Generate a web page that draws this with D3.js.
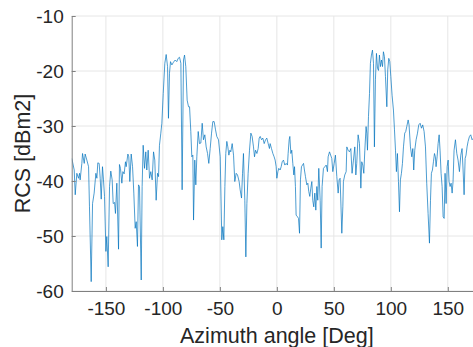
<!DOCTYPE html>
<html>
<head>
<meta charset="utf-8">
<script src="https://cdn.jsdelivr.net/npm/d3@7"></script>
<style>
  html, body { margin: 0; padding: 0; background: #ffffff; overflow: hidden; }
  svg { display: block; font-family: "Liberation Sans", Arial, Helvetica, sans-serif; }
</style>
</head>
<body>
<svg id="chart" width="473" height="347"></svg>
<script>
// Azimuth sweep of radar cross section
const angleDeg = [
  -179.9, -177.8, -176.9, -175.5, -174.0, -173.1, -172.6, -171.1, -170.5, -169.0,
  -168.2, -166.7, -165.2, -164.4, -162.9, -161.7, -160.3, -158.8, -157.9, -157.1,
  -155.9, -155.0, -154.1, -153.0, -152.1, -151.2, -150.0, -149.2, -148.0, -146.8,
  -145.7, -144.5, -143.6, -142.4, -141.6, -140.4, -138.9, -138.1, -137.2, -136.0,
  -135.1, -134.0, -132.8, -132.2, -130.7, -129.9, -129.0, -127.8, -126.6, -125.5,
  -124.3, -123.4, -122.3, -121.4, -120.5, -119.0, -118.2, -117.3, -116.1, -115.0,
  -114.1, -112.9, -111.7, -110.6, -109.4, -108.2, -107.1, -105.9, -104.7, -103.8,
  -103.0, -101.8, -100.9, -99.7, -98.3, -97.1, -95.9, -95.1, -94.2, -93.3,
  -92.1, -90.7, -89.2, -87.8, -86.6, -85.4, -84.2, -83.1, -81.9, -81.0,
  -79.9, -78.7, -77.5, -76.6, -75.5, -74.6, -73.7, -73.1, -72.0, -71.1,
  -70.2, -69.0, -67.9, -66.7, -65.5, -64.4, -63.2, -62.0, -60.8, -59.7,
  -58.5, -57.3, -56.2, -55.0, -53.8, -52.7, -51.2, -49.7, -48.3, -47.4,
  -46.5, -45.6, -44.8, -43.9, -43.0, -42.1, -41.2, -40.4, -39.2, -38.0,
  -36.9, -35.7, -34.5, -33.1, -32.2, -31.0, -30.1, -29.3, -28.1, -27.2,
  -26.3, -25.2, -24.0, -22.8, -21.7, -20.5, -19.6, -18.7, -17.5, -16.4,
  -15.5, -14.6, -13.4, -12.3, -11.1, -9.9, -8.8, -7.6, -6.5, -5.9,
  -4.7, -3.5, -2.4, -1.5, -0.6, 0.0, 0.9, 1.7, 2.9, 3.8,
  4.7, 5.8, 7.0, 8.2, 9.3, 9.9, 10.8, 11.4, 12.3, 13.1,
  14.0, 14.9, 15.5, 16.3, 16.9, 18.1, 19.0, 19.9, 20.7, 21.6,
  22.5, 23.4, 24.2, 25.1, 26.3, 27.2, 28.0, 28.9, 29.8, 30.7,
  31.5, 32.4, 33.3, 34.2, 35.1, 35.9, 36.8, 38.0, 38.9, 39.7,
  40.9, 42.1, 43.3, 44.4, 45.0, 46.2, 48.2, 49.1, 50.3, 51.4,
  52.6, 53.8, 54.6, 55.5, 57.0, 57.9, 58.4, 59.6, 60.8, 61.4,
  62.5, 63.7, 64.9, 66.0, 67.2, 68.4, 69.3, 70.1, 71.3, 72.5,
  73.7, 74.5, 75.4, 76.3, 77.2, 78.3, 78.9, 79.5, 80.4, 81.3,
  82.1, 83.0, 83.9, 84.8, 85.6, 86.5, 87.4, 88.3, 89.2, 90.0,
  90.9, 91.8, 92.7, 93.5, 94.4, 95.3, 96.5, 97.3, 98.2, 99.1,
  100.0, 101.1, 102.3, 103.2, 104.1, 104.9, 105.8, 106.7, 107.6, 108.4,
  109.3, 110.2, 111.1, 112.2, 113.1, 114.0, 115.2, 116.0, 117.2, 118.4,
  119.3, 120.1, 121.0, 122.2, 123.4, 124.5, 125.7, 126.9, 128.0, 129.2,
  130.4, 131.5, 132.7, 133.9, 134.8, 135.6, 136.5, 137.4, 138.3, 139.1,
  139.7, 140.6, 141.5, 142.4, 143.2, 144.1, 145.0, 145.9, 146.8, 147.6,
  148.5, 149.4, 150.3, 151.1, 152.0, 152.9, 153.8, 154.6, 155.5, 156.7,
  157.9, 159.0, 160.2, 161.4, 162.5, 163.4, 164.3, 165.2, 166.0, 166.9,
  167.8, 169.0, 170.1, 171.3, 172.6
];

const rcsDbm = [
  -35.9, -38.0, -42.5, -38.6, -39.5, -38.6, -39.8, -36.8, -35.0, -36.8,
  -35.1, -36.2, -37.4, -44.7, -58.3, -44.1, -42.2, -38.6, -39.5, -36.7,
  -36.8, -39.5, -43.3, -37.4, -39.8, -42.8, -52.8, -50.1, -55.6, -41.0,
  -38.2, -39.8, -44.1, -43.9, -45.9, -40.4, -52.4, -37.0, -37.7, -40.4,
  -38.3, -38.7, -36.5, -37.4, -35.1, -35.6, -40.1, -35.1, -37.4, -42.2,
  -48.6, -47.4, -51.9, -40.7, -41.0, -58.0, -41.0, -33.5, -37.7, -34.7,
  -38.0, -34.4, -39.5, -38.3, -39.8, -34.7, -36.2, -43.5, -38.6, -39.2,
  -33.5, -31.3, -29.5, -24.1, -18.6, -17.0, -19.2, -28.6, -20.4, -18.3,
  -18.9, -18.4, -18.0, -18.3, -17.7, -17.5, -18.6, -41.6, -18.0, -17.1,
  -19.2, -25.3, -26.5, -26.5, -31.0, -35.6, -35.3, -47.1, -36.2, -40.7,
  -35.6, -31.0, -33.2, -33.1, -29.5, -32.5, -31.6, -33.8, -35.0, -36.8,
  -34.1, -31.3, -29.2, -29.2, -30.7, -31.9, -32.5, -35.6, -50.7, -48.3,
  -50.7, -41.0, -35.0, -32.8, -33.8, -35.3, -34.4, -34.7, -33.2, -35.3,
  -40.1, -38.6, -38.9, -40.1, -41.6, -43.1, -38.6, -35.0, -43.5, -53.8,
  -44.1, -38.6, -34.4, -31.3, -31.9, -33.8, -35.6, -34.4, -35.0, -34.1,
  -32.2, -31.9, -32.5, -32.2, -33.2, -32.5, -32.2, -33.2, -34.1, -33.2,
  -34.1, -35.0, -35.6, -36.2, -37.4, -39.5, -38.3, -37.7, -38.0, -37.4,
  -36.5, -36.2, -37.1, -36.8, -37.1, -35.0, -32.5, -31.9, -35.0, -34.4,
  -36.8, -38.9, -37.4, -41.0, -46.2, -46.5, -46.8, -49.5, -39.8, -37.4,
  -37.1, -36.8, -38.0, -39.2, -40.7, -40.4, -41.9, -42.8, -41.3, -40.1,
  -43.5, -44.7, -42.2, -45.3, -41.0, -43.5, -37.7, -43.5, -52.2, -41.0,
  -37.7, -37.4, -37.1, -38.3, -35.6, -34.7, -35.9, -38.3, -36.8, -35.3,
  -39.2, -42.2, -39.8, -39.5, -49.5, -44.7, -40.1, -38.9, -38.3, -33.8,
  -34.4, -34.7, -34.1, -38.6, -36.2, -33.8, -38.9, -36.8, -31.6, -33.2,
  -41.3, -36.5, -37.1, -38.6, -34.4, -30.1, -31.3, -34.4, -28.3, -24.1,
  -18.6, -17.1, -16.2, -18.6, -33.8, -21.6, -16.8, -19.5, -19.9, -17.1,
  -19.2, -18.0, -19.2, -16.5, -17.4, -21.0, -26.5, -19.8, -17.7, -18.3,
  -21.0, -24.4, -27.1, -30.7, -34.4, -38.3, -35.0, -40.1, -45.6, -39.8,
  -38.6, -36.8, -33.8, -31.3, -31.0, -30.1, -28.9, -29.8, -33.8, -35.6,
  -34.1, -38.0, -34.4, -32.5, -31.3, -29.8, -29.5, -30.4, -29.8, -31.0,
  -33.8, -40.4, -45.9, -51.3, -43.5, -38.6, -38.0, -36.5, -35.0, -35.6,
  -37.4, -35.6, -33.2, -31.6, -34.4, -38.6, -41.0, -46.5, -46.8, -38.6,
  -44.1, -37.4, -36.2, -40.1, -41.0, -40.4, -42.2, -40.1, -34.4, -32.5,
  -35.0, -36.2, -38.3, -35.3, -34.1, -38.0, -42.5, -35.9, -35.3, -33.8,
  -32.8, -31.9, -31.6, -32.5, -32.2
];

const xTicks = [-150, -100, -50, 0, 50, 100, 150];
const yTicks = [-60, -50, -40, -30, -20, -10];
const xLabel = "Azimuth angle [Deg]";
const yLabel = "RCS [dBm2]";

const svg = d3.select("#chart");
const plot = { left: 71.7, right: 482, top: 16, bottom: 291 };

const x = d3.scaleLinear().domain([-180, 180]).range([plot.left, plot.right]);
const y = d3.scaleLinear().domain([-60, -10]).range([plot.bottom, plot.top]);

const axisColor = "#808080";
const textColor = "#262626";
const gridColor = "#e6e6e6";

// grid
const grid = svg.append("g");
grid.selectAll("line.gx").data(xTicks).join("line")
  .attr("x1", d => x(d)).attr("x2", d => x(d))
  .attr("y1", plot.top).attr("y2", plot.bottom)
  .attr("stroke", gridColor).attr("stroke-width", 1);
grid.selectAll("line.gy").data(yTicks).join("line")
  .attr("x1", plot.left).attr("x2", plot.right)
  .attr("y1", d => y(d)).attr("y2", d => y(d))
  .attr("stroke", gridColor).attr("stroke-width", 1);

// data line
svg.append("defs").append("clipPath").attr("id", "plotClip")
  .append("rect").attr("x", plot.left).attr("y", plot.top)
  .attr("width", plot.right - plot.left).attr("height", plot.bottom - plot.top);

const pts = angleDeg.map((a, i) => [a, rcsDbm[i]]);
svg.append("path")
  .datum(pts)
  .attr("clip-path", "url(#plotClip)")
  .attr("fill", "none")
  .attr("stroke", "#0072BD")
  .attr("stroke-width", 0.7)
  .attr("stroke-linejoin", "round")
  .attr("d", d3.line().x(d => x(d[0])).y(d => y(d[1])));

// axes (ticks drawn inward)
const xAxis = svg.append("g")
  .attr("transform", `translate(0,${plot.bottom})`)
  .call(d3.axisBottom(x).tickValues(xTicks).tickFormat(d => String(d)).tickSizeInner(-4).tickSizeOuter(0).tickPadding(11));
const yAxis = svg.append("g")
  .attr("transform", `translate(${plot.left},0)`)
  .call(d3.axisLeft(y).tickValues(yTicks).tickFormat(d => String(d)).tickSizeInner(-4).tickSizeOuter(0).tickPadding(8));

[xAxis, yAxis].forEach(g => {
  g.select(".domain").attr("stroke", axisColor).attr("stroke-width", 1);
  g.selectAll(".tick line").attr("stroke", axisColor);
  g.selectAll(".tick text")
    .attr("fill", textColor)
    .style("font-size", "19px")
    .style("font-family", "'Liberation Sans', Arial, sans-serif");
});
xAxis.selectAll(".tick text").attr("dy", "0.71em");

// axis titles
svg.append("text")
  .attr("x", (plot.left + plot.right) / 2)
  .attr("y", 343)
  .attr("text-anchor", "middle")
  .attr("fill", textColor)
  .style("font-size", "21.5px")
  .text(xLabel);

svg.append("text")
  .attr("transform", `translate(30,${(plot.top + plot.bottom) / 2}) rotate(-90)`)
  .attr("text-anchor", "middle")
  .attr("fill", textColor)
  .style("font-size", "21.5px")
  .text(yLabel);
</script>
</body>
</html>
